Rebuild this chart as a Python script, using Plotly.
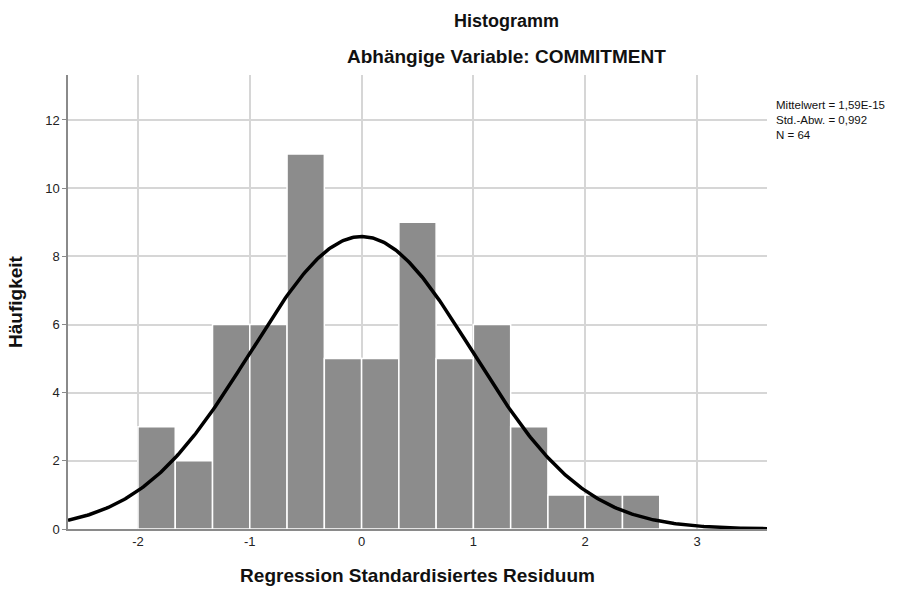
import numpy as np
import plotly.graph_objects as go

# Data
bin_start = -2.0
bin_width = 1.0 / 3.0
counts = [3, 2, 6, 6, 11, 5, 5, 9, 5, 6, 3, 1, 1, 1]
mean_val = 1.59e-15
std_val = 0.992
n_val = 64
x_ticks = [-2, -1, 0, 1, 2, 3]
y_ticks = [0, 2, 4, 6, 8, 10, 12]

centers = [bin_start + bin_width * (i + 0.5) for i in range(len(counts))]

# Normal curve scaled to counts
xc = np.linspace(-2.626, 3.626, 400)
yc = n_val * bin_width / (std_val * np.sqrt(2 * np.pi)) * np.exp(-0.5 * ((xc - mean_val) / std_val) ** 2)

fig = go.Figure()
fig.add_trace(go.Bar(
    x=centers, y=counts, width=bin_width,
    marker=dict(color="#8c8c8c", line=dict(color="white", width=1.5)),
    hoverinfo="skip",
))
fig.add_trace(go.Scatter(
    x=xc, y=yc, mode="lines",
    line=dict(color="black", width=3.5),
    hoverinfo="skip",
))

font_family = "Liberation Sans, Arial, sans-serif"
fig.update_layout(
    width=903, height=597,
    margin=dict(l=68, r=136, t=75, b=68),
    plot_bgcolor="white", paper_bgcolor="white",
    showlegend=False,
    font=dict(family=font_family, size=13, color="#222"),
    xaxis=dict(
        range=[-2.626, 3.626], tickvals=x_ticks, ticktext=[str(v) for v in x_ticks],
        showgrid=True, gridcolor="#d6d6d6", gridwidth=1.5,
        showline=True, linecolor="#8a8a8a", linewidth=1.5,
        ticks="", zeroline=False,
        title=dict(text="<b>Regression Standardisiertes Residuum</b>",
                   font=dict(size=19, color="#111"), standoff=20),
    ),
    yaxis=dict(
        range=[0, 13.32], tickvals=y_ticks, ticktext=[str(v) for v in y_ticks],
        showgrid=True, gridcolor="#d6d6d6", gridwidth=1.5,
        showline=True, linecolor="#8a8a8a", linewidth=1.5,
        ticks="outside", ticklen=4, tickcolor="#8a8a8a",
        zeroline=False,
        title=dict(text="<b>Häufigkeit</b>", font=dict(size=19, color="#111"), standoff=18),
    ),
    annotations=[
        dict(text="<b>Histogramm</b>", xref="paper", yref="paper",
             x=0.628, y=1 + (75 - 21) / 454, xanchor="center", yanchor="middle",
             showarrow=False, font=dict(size=18, color="#111")),
        dict(text="<b>Abhängige Variable: COMMITMENT</b>", xref="paper", yref="paper",
             x=0.628, y=1 + (75 - 57) / 454, xanchor="center", yanchor="middle",
             showarrow=False, font=dict(size=19, color="#111")),
        dict(text=f"Mittelwert = 1,59E-15<br>Std.-Abw. = 0,992<br>N = {n_val}",
             xref="paper", yref="paper", x=1 + (774 - 767) / 699, y=1 - (97 - 75) / 454,
             xanchor="left", yanchor="top", align="left", showarrow=False,
             font=dict(size=11.5, color="#111")),
    ],
)

fig.write_html("out.html")
